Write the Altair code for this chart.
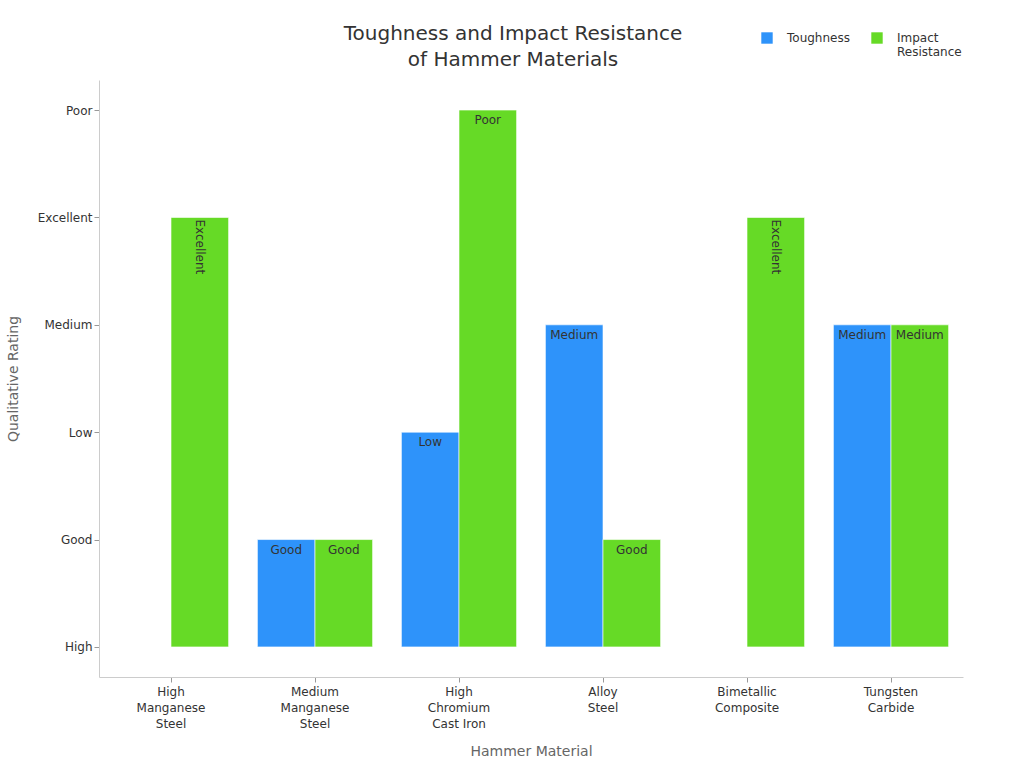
import altair as alt
import pandas as pd

# Ordered qualitative scale, bottom to top of the y axis
ratings = ["High", "Good", "Low", "Medium", "Excellent", "Poor"]

materials = [
    "High Manganese Steel",
    "Medium Manganese Steel",
    "High Chromium Cast Iron",
    "Alloy Steel",
    "Bimetallic Composite",
    "Tungsten Carbide",
]
toughness = ["High", "Good", "Low", "Medium", "High", "Medium"]
impact_resistance = ["Excellent", "Good", "Poor", "Good", "Excellent", "Medium"]

series_names = ["Toughness", "Impact Resistance"]
series_colors = ["#2E93FA", "#66DA26"]

# Line breaks used for the category tick labels
label_lines = {
    "High Manganese Steel": ["High", "Manganese", "Steel"],
    "Medium Manganese Steel": ["Medium", "Manganese", "Steel"],
    "High Chromium Cast Iron": ["High", "Chromium", "Cast Iron"],
    "Alloy Steel": ["Alloy", "Steel"],
    "Bimetallic Composite": ["Bimetallic", "Composite"],
    "Tungsten Carbide": ["Tungsten", "Carbide"],
}

rows = []
for m, t, i in zip(materials, toughness, impact_resistance):
    rows.append({"material": m, "series": "Toughness", "rating": t, "rank": ratings.index(t)})
    rows.append({"material": m, "series": "Impact Resistance", "rating": i, "rank": ratings.index(i)})
df = pd.DataFrame(rows)

FONT = "DejaVu Sans"

x_label_expr = " : ".join(
    f"datum.label == '{k}' ? {v!r}" for k, v in label_lines.items()
) + " : datum.label"
y_label_expr = "[" + ", ".join(repr(r) for r in ratings) + "][datum.value]"
legend_label_expr = "datum.label == 'Impact Resistance' ? ['Impact', 'Resistance'] : datum.label"

x_enc = alt.X(
    "material:N",
    sort=materials,
    scale=alt.Scale(paddingInner=0.2, paddingOuter=0.1),
    axis=alt.Axis(
        title="Hammer Material",
        labelAngle=0,
        labelExpr=x_label_expr,
        labelFontSize=12,
        labelColor="#333333",
        labelLineHeight=16,
        labelPadding=4,
        labelBaseline="top",
        tickSize=5,
        tickColor="#999999",
        domainColor="#cccccc",
        titleFontSize=14,
        titleFontWeight="normal",
        titleColor="#666666",
        titlePadding=15,
    ),
)
xoff = alt.XOffset("series:N", sort=series_names)
y_scale = alt.Scale(domain=[-0.28, 5.28], nice=False, zero=False)

base = alt.Chart(df)

bars = base.mark_bar(stroke="#ffffff", strokeWidth=1, strokeOpacity=0.6).encode(
    x=x_enc,
    xOffset=xoff,
    y=alt.Y(
        "rank:Q",
        scale=y_scale,
        axis=alt.Axis(
            title="Qualitative Rating",
            values=list(range(len(ratings))),
            labelExpr=y_label_expr,
            labelFontSize=12,
            labelColor="#333333",
            tickSize=5,
            tickColor="#999999",
            domainColor="#cccccc",
            grid=False,
            titleFontSize=14,
            titleFontWeight="normal",
            titleColor="#666666",
            titlePadding=17,
        ),
    ),
    y2=alt.datum(0),
    color=alt.Color(
        "series:N",
        sort=series_names,
        scale=alt.Scale(domain=series_names, range=series_colors),
        legend=alt.Legend(
            title=None,
            orient="none",
            direction="horizontal",
            legendX=662,
            legendY=-48,
            gridAlign="none",
            symbolType="square",
            symbolSize=130,
            symbolStrokeWidth=0,
            labelFontSize=12,
            labelColor="#333333",
            labelExpr=legend_label_expr,
            columnPadding=21,
            labelOffset=14,
        ),
    ),
).transform_filter("datum.rank > 0")

labels_flat = base.mark_text(
    baseline="top", dy=5, fontSize=12, color="#333333", font=FONT
).encode(
    x=alt.X("material:N", sort=materials),
    xOffset=xoff,
    y=alt.Y("rank:Q", scale=y_scale),
    text="rating:N",
).transform_filter("datum.rank > 0 && length(datum.rating) <= 6")

labels_rot = base.mark_text(
    angle=90, align="left", baseline="middle", dx=2, fontSize=12, color="#333333", font=FONT
).encode(
    x=alt.X("material:N", sort=materials),
    xOffset=xoff,
    y=alt.Y("rank:Q", scale=y_scale),
    text="rating:N",
).transform_filter("datum.rank > 0 && length(datum.rating) > 6")

chart = (
    alt.layer(bars, labels_flat, labels_rot)
    .properties(
        width=864,
        height=597,
        title=alt.TitleParams(
            text=["Toughness and Impact Resistance", "of Hammer Materials"],
            fontSize=20,
            fontWeight="normal",
            color="#333333",
            anchor="middle",
            dx=-18,
            offset=-38,
            lineHeight=26,
            font=FONT,
        ),
        autosize=alt.AutoSizeParams(type="none"),
        padding={"left": 99, "top": 80, "right": 61, "bottom": 91},
    )
    .configure(font=FONT)
    .configure_view(stroke=None)
)

chart.save("out.html", embed_options={"renderer": "svg", "actions": False})
